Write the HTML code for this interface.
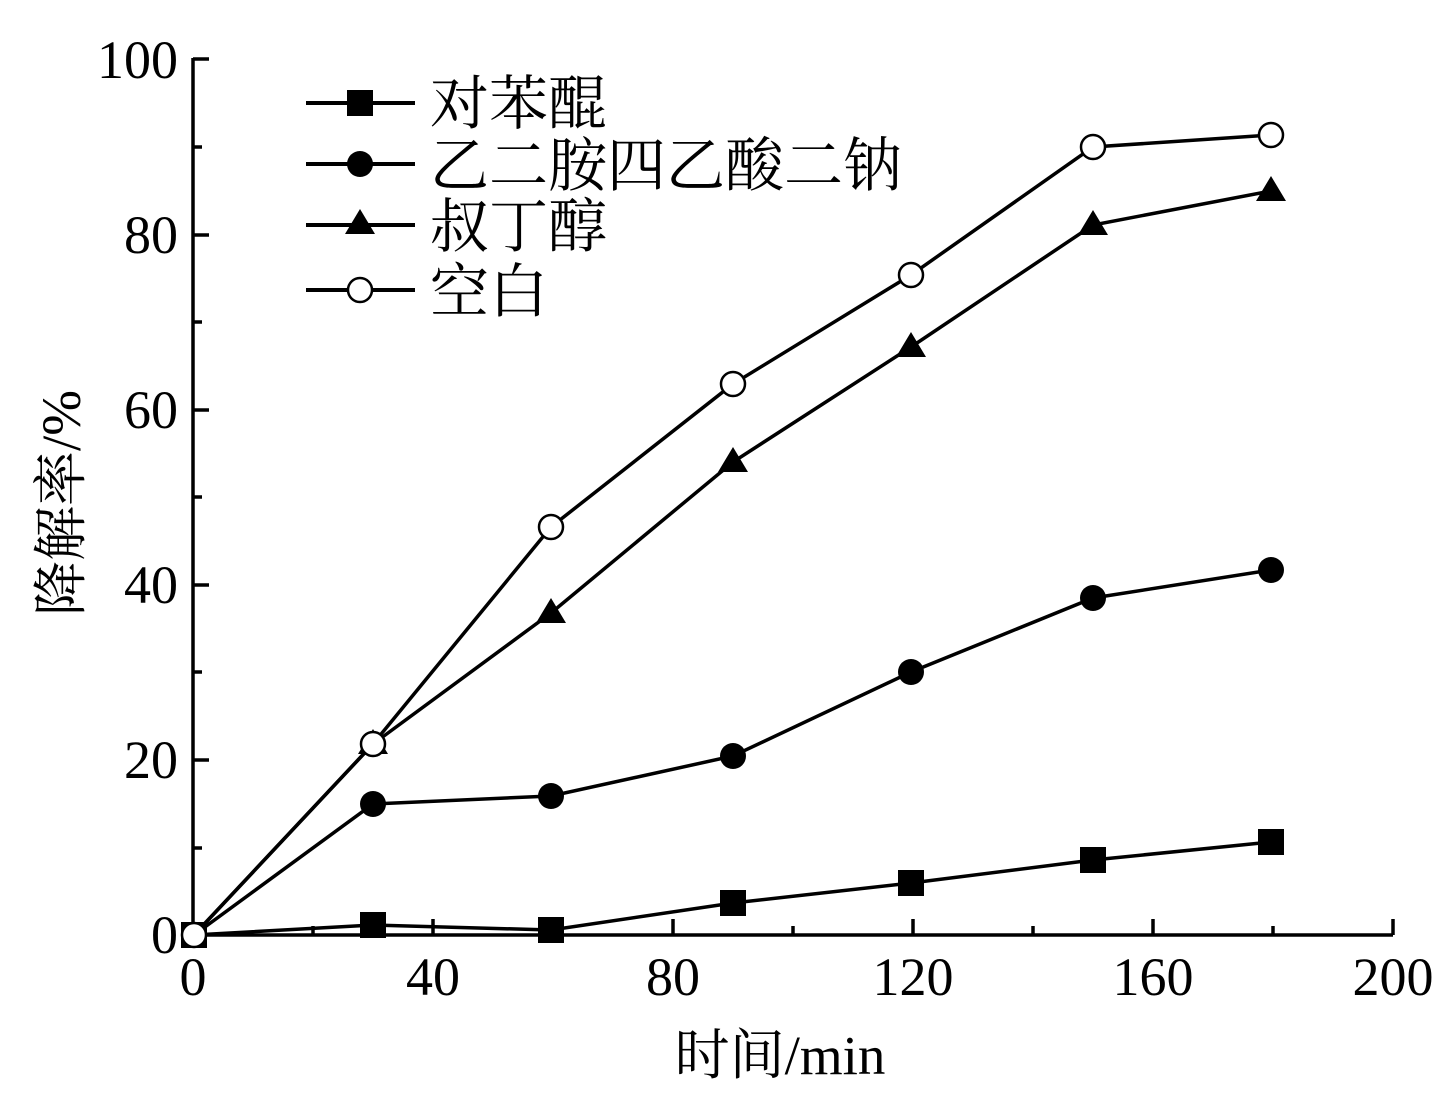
<!DOCTYPE html>
<html><head><meta charset="utf-8"><style>body{margin:0;background:#fff}</style></head><body>
<svg width="1434" height="1094" xmlns="http://www.w3.org/2000/svg" font-family="Liberation Serif, Noto Serif CJK SC, serif">
<rect width="1434" height="1094" fill="#fff"/>
<g stroke="#000" stroke-width="3.5" fill="none">
<path d="M193,58 V935 H1393"/>
<path d="M193,59h16M193,235h16M193,410h16M193,585h16M193,760h16
M193,147h9M193,322h9M193,497h9M193,672h9M193,848h9"/>
<path d="M433,935v-16M673,935v-16M913,935v-16M1153,935v-16M1393,935v-16
M313,935v-9M553,935v-9M793,935v-9M1033,935v-9M1273,935v-9"/>
</g>
<g font-size="54" text-anchor="end">
<text x="178" y="953">0</text><text x="178" y="778">20</text><text x="178" y="603">40</text><text x="178" y="428">60</text><text x="178" y="253">80</text><text x="178" y="78">100</text>
</g>
<g font-size="54" text-anchor="middle">
<text x="193" y="995">0</text><text x="433" y="995">40</text><text x="673" y="995">80</text><text x="913" y="995">120</text><text x="1153" y="995">160</text><text x="1393" y="995">200</text>
</g>
<text x="780" y="1074" font-size="55" text-anchor="middle" font-family="Liberation Serif, Noto Serif CJK SC, serif">时间/min</text>
<text transform="translate(80,503) rotate(-90)" font-size="55" text-anchor="middle" font-family="Liberation Serif, Noto Serif CJK SC, serif">降解率/%</text>
<g stroke="#000" stroke-width="3.5" fill="none">
<polyline points="194,935 373,925 551,930 733,903 911,883 1093,860 1271,842"/>
<polyline points="194,935 373,804 551,796 733,756 911,672 1093,598 1271,570"/>
<polyline points="194,935 373,744 551,613 733,462 911,347 1093,225 1271,191"/>
<polyline points="194,935 373,744 551,527 733,384 911,275 1093,147 1271,135"/>
</g>
<g fill="#000">
<rect x="181" y="922" width="26" height="26"/>
<rect x="360" y="912" width="26" height="26"/><rect x="538" y="917" width="26" height="26"/><rect x="720" y="890" width="26" height="26"/><rect x="898" y="870" width="26" height="26"/><rect x="1080" y="847" width="26" height="26"/><rect x="1258" y="829" width="26" height="26"/>
<circle cx="373" cy="804" r="13"/><circle cx="551" cy="796" r="13"/><circle cx="733" cy="756" r="13"/><circle cx="911" cy="672" r="13"/><circle cx="1093" cy="598" r="13"/><circle cx="1271" cy="570" r="13"/>
<path d="M373,729l15,25h-30zM551,598l15,25h-30zM733,447l15,25h-30zM911,332l15,25h-30zM1093,210l15,25h-30zM1271,176l15,25h-30z"/>
</g>
<g fill="#fff" stroke="#000" stroke-width="2.5">
<circle cx="194" cy="935" r="12"/><circle cx="373" cy="744" r="12"/><circle cx="551" cy="527" r="12"/><circle cx="733" cy="384" r="12"/><circle cx="911" cy="275" r="12"/><circle cx="1093" cy="147" r="12"/><circle cx="1271" cy="135" r="12"/>
</g>
<g stroke="#000" stroke-width="4"><path d="M306,103h109M306,164h109M306,225h109M306,290h109"/></g>
<rect x="347" y="90" width="26" height="26"/>
<circle cx="360" cy="164" r="13"/>
<path d="M360,209l15,25h-30z"/>
<circle cx="360" cy="290" r="12" fill="#fff" stroke="#000" stroke-width="2.5"/>
<g font-size="59" font-family="Liberation Serif, Noto Serif CJK SC, serif">
<text x="430" y="124">对苯醌</text><text x="430" y="186">乙二胺四乙酸二钠</text><text x="430" y="247">叔丁醇</text><text x="430" y="312">空白</text>
</g>
</svg>
</body></html>
